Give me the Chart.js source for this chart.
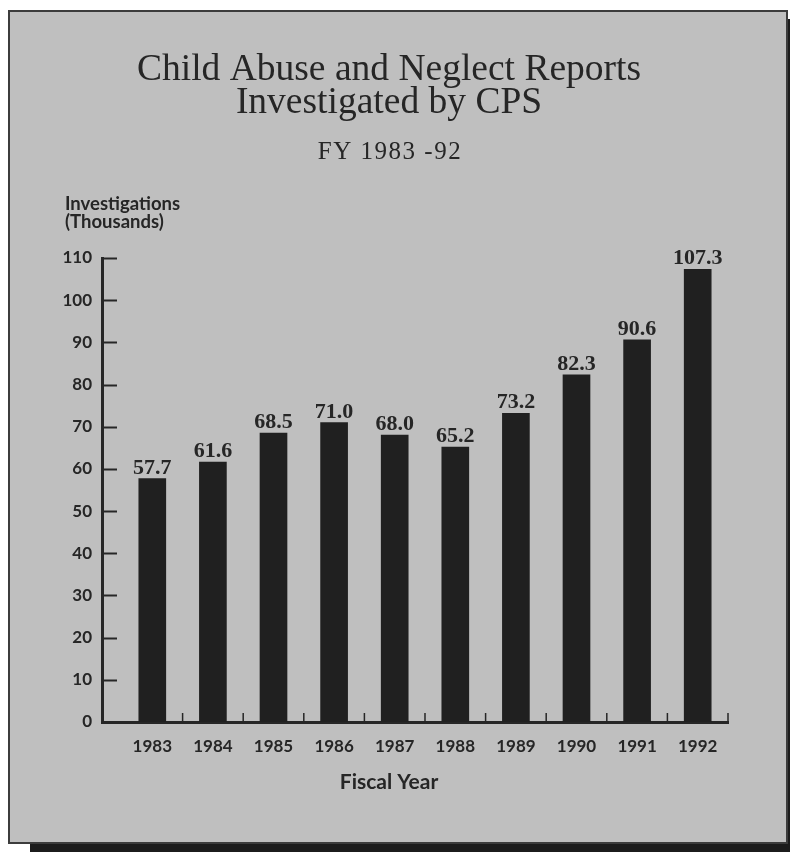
<!DOCTYPE html>
<html>
<head>
<meta charset="utf-8">
<script src="https://cdn.jsdelivr.net/npm/chart.js@4"></script>
<style>
    body { margin: 0; background: #ffffff; }
    #frame {
        position: absolute;
        left: 8px;
        top: 10px;
        width: 776px;
        height: 830px;
        border: 2px solid #3c3c3c;
        background: #bfbfbf;
        box-shadow: 22px 9px 0 #1c1c1c;
    }
    #wrap { position: absolute; left: 0; top: 0; width: 790px; height: 852px; }
</style>
</head>
<body>
<div id="frame"></div>
<div id="wrap"><canvas id="cpsChart" width="790" height="852"></canvas></div>
<script>
// Data (thousands of investigations)
const years = [1983, 1984, 1985, 1986, 1987, 1988, 1989, 1990, 1991, 1992];
const investigations = [57.7, 61.6, 68.5, 71.0, 68.0, 65.2, 73.2, 82.3, 90.6, 107.3];
const yTicks = [0, 10, 20, 30, 40, 50, 60, 70, 80, 90, 100, 110];

const inkColor = '#262626';
const barColor = '#202020';
const sansFont = 'Lato, "Open Sans", sans-serif';
const serifFont = '"Liberation Serif", "DejaVu Serif", serif';

// Extra drawing: subtitle, inward ticks, value labels, axis titles
const decorations = {
    id: 'decorations',
    afterDraw(chart) {
        const { ctx, chartArea, scales } = chart;
        const x = scales.x;
        const y = scales.y;
        ctx.save();
        ctx.strokeStyle = inkColor;
        ctx.fillStyle = inkColor;

        // subtitle
        ctx.font = '25px ' + serifFont;
        ctx.textAlign = 'center';
        ctx.textBaseline = 'middle';
        ctx.letterSpacing = '1.5px';
        ctx.fillText('FY 1983 -92', 390, 152);
        ctx.letterSpacing = '0px';

        // y ticks pointing into the plot
        ctx.lineWidth = 2;
        yTicks.forEach(v => {
            if (v === 0) return;
            const py = Math.round(y.getPixelForValue(v)) + 0.5;
            ctx.beginPath();
            ctx.moveTo(chartArea.left, py);
            ctx.lineTo(chartArea.left + 15, py);
            ctx.stroke();
        });

        // small ticks between the bars
        ctx.lineWidth = 1.5;
        years.forEach(yr => {
            const px = x.getPixelForValue(yr + 0.5);
            ctx.beginPath();
            ctx.moveTo(px, chartArea.bottom);
            ctx.lineTo(px, chartArea.bottom - 9);
            ctx.stroke();
        });

        // value labels above bars
        ctx.font = 'bold 22px ' + serifFont;
        ctx.textAlign = 'center';
        ctx.textBaseline = 'alphabetic';
        const meta = chart.getDatasetMeta(0);
        meta.data.forEach((bar, i) => {
            ctx.fillText(investigations[i].toFixed(1), bar.x, bar.y - 5);
        });

        // axis titles
        ctx.font = 'bold 18.5px ' + sansFont;
        ctx.textAlign = 'left';
        ctx.textBaseline = 'middle';
        ctx.fillText('Investigations', 65, 204);
        ctx.fillText('(Thousands)', 65, 222);

        ctx.font = 'bold 21px ' + sansFont;
        ctx.textAlign = 'center';
        ctx.fillText('Fiscal Year', 389, 782);
        ctx.restore();
    }
};

const ctx = document.getElementById('cpsChart').getContext('2d');
const cpsChart = new Chart(ctx, {
    type: 'bar',
    data: {
        datasets: [{
            data: years.map((yr, i) => ({ x: yr, y: investigations[i] })),
            backgroundColor: barColor,
            borderWidth: 0,
            barThickness: 27
        }]
    },
    options: {
        responsive: false,
        animation: false,
        layout: {
            padding: { left: 50, right: 62, top: 0, bottom: 90 }
        },
        scales: {
            x: {
                type: 'linear',
                offset: false,
                min: 1982.17,
                max: 1992.5,
                afterBuildTicks: scale => {
                    scale.ticks = years.map(v => ({ value: v }));
                },
                afterFit: scale => { scale.height = 40; },
                grid: { display: false, drawTicks: false },
                border: { display: true, color: inkColor, width: 3 },
                ticks: {
                    color: inkColor,
                    padding: 14,
                    font: { family: sansFont, size: 17, weight: 'bold' },
                    callback: v => String(v)
                }
            },
            y: {
                min: 0,
                max: 110,
                afterBuildTicks: scale => {
                    scale.ticks = yTicks.map(v => ({ value: v }));
                },
                afterFit: scale => { scale.width = 52; },
                grid: { display: false, drawTicks: false },
                border: { display: true, color: inkColor, width: 3 },
                ticks: {
                    color: inkColor,
                    padding: 10,
                    font: { family: sansFont, size: 17, weight: 'bold' }
                }
            }
        },
        plugins: {
            legend: { display: false },
            tooltip: { enabled: false },
            title: {
                display: true,
                text: ['Child Abuse and Neglect Reports', 'Investigated by CPS'],
                color: inkColor,
                font: { family: serifFont, size: 37.5, weight: 'normal', lineHeight: 0.9 },
                padding: { top: 53, bottom: 137.5 }
            }
        }
    },
    plugins: [decorations]
});
</script>
</body>
</html>
